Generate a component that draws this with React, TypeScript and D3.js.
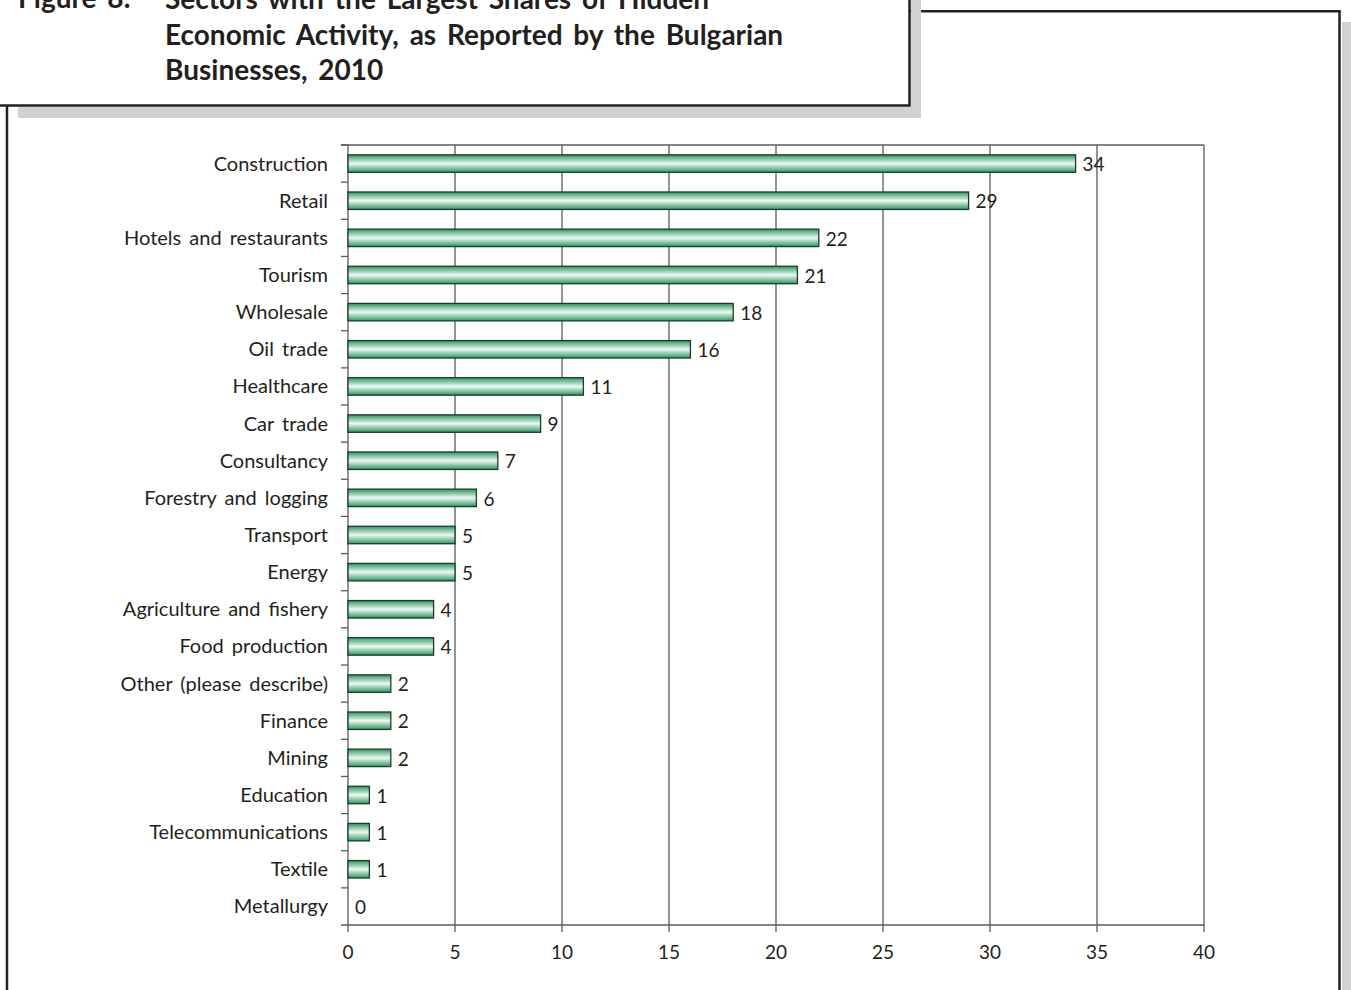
import React from "react";
import * as d3 from "d3";

const categories = [
  "Construction", "Retail", "Hotels and restaurants", "Tourism", "Wholesale",
  "Oil trade", "Healthcare", "Car trade", "Consultancy", "Forestry and logging",
  "Transport", "Energy", "Agriculture and fishery", "Food production",
  "Other (please describe)", "Finance", "Mining", "Education",
  "Telecommunications", "Textile", "Metallurgy",
];
const values = [34, 29, 22, 21, 18, 16, 11, 9, 7, 6, 5, 5, 4, 4, 2, 2, 2, 1, 1, 1, 0];
const xTicks = [0, 5, 10, 15, 20, 25, 30, 35, 40];
const titleLabel = "Figure 8:";
const titleLines = [
  "Sectors with the Largest Shares of Hidden",
  "Economic Activity, as Reported by the Bulgarian",
  "Businesses, 2010",
];

const W = 1351, H = 990;
const left = 348, right = 1204, top = 145, bottom = 925;
const font = "Lato, 'Open Sans', sans-serif";

export default function App() {
  const x = d3.scaleLinear().domain([0, 40]).range([left, right]);
  const y = d3.scaleBand<string>().domain(categories).range([top, bottom])
    .paddingInner(0.53).paddingOuter(0.265);
  const step = y.step();
  const grid = "#5a5a5a";
  const shadow = "#d1d2d4";
  return (
    <svg width={W} height={H} style={{ position: "absolute", left: 0, top: 0, background: "#fff" }}>
      <defs>
        <linearGradient id="barGrad" x1="0" y1="0" x2="0" y2="1">
          <stop offset="0" stopColor="#2a9860" />
          <stop offset="0.5" stopColor="#eef8f2" />
          <stop offset="1" stopColor="#2a9860" />
        </linearGradient>
      </defs>
      <rect x={0} y={0} width={W} height={H} fill="#fff" />
      {/* outer frame shadow */}
      <rect x={1342} y={22} width={9} height={H - 22} fill={shadow} />
      {/* outer frame */}
      <line x1={7} y1={105} x2={7} y2={H} stroke="#222" strokeWidth={2.5} />
      <line x1={910} y1={11.2} x2={1340.5} y2={11.2} stroke="#222" strokeWidth={2.5} />
      <line x1={1339.5} y1={10} x2={1339.5} y2={H} stroke="#222" strokeWidth={2.5} />
      {/* title box shadow */}
      <rect x={18} y={107} width={903} height={11} fill={shadow} />
      <rect x={911} y={0} width={10} height={118} fill={shadow} />
      {/* title box */}
      <rect x={-10} y={-10} width={919.5} height={115.5} fill="#fff" stroke="#222" strokeWidth={2.5} />
      <g fontFamily={font} fontWeight="bold" fontSize={28} fill="#231f20" wordSpacing={4}>
        <text x={18} y={8}>{titleLabel}</text>
        {titleLines.map((t, i) => (
          <text key={i} x={165} y={9 + i * 35.5}>{t}</text>
        ))}
      </g>
      {/* grid */}
      {xTicks.filter((t) => t > 0).map((t) => (
        <line key={t} x1={x(t)} x2={x(t)} y1={top} y2={bottom + 7} stroke={grid} strokeWidth={1.3} />
      ))}
      <line x1={left - 7} x2={right} y1={top} y2={top} stroke={grid} strokeWidth={1.3} />
      <line x1={left} x2={left} y1={top} y2={bottom + 7} stroke={grid} strokeWidth={1.3} />
      <line x1={left - 7} x2={right} y1={bottom} y2={bottom} stroke={grid} strokeWidth={1.3} />
      {categories.map((c, i) => (
        <line key={c} x1={left - 7} x2={left} y1={top + i * step} y2={top + i * step} stroke={grid} strokeWidth={1.3} />
      ))}
      {/* bars */}
      {categories.map((c, i) => values[i] > 0 ? (
        <rect key={c} x={x(0)} y={y(c)} width={x(values[i]) - x(0)} height={y.bandwidth()}
          fill="url(#barGrad)" stroke="#1d3b2b" strokeWidth={1.3} />
      ) : null)}
      {/* labels */}
      <g fontFamily={font} fill="#231f20">
        {categories.map((c, i) => (
          <text key={c} x={328} y={(y(c) as number) + y.bandwidth() / 2} dy="0.35em" textAnchor="end" wordSpacing={3} fontSize={20}>{c}</text>
        ))}
        {categories.map((c, i) => (
          <text key={c + "v"} x={x(values[i]) + 7} y={(y(c) as number) + y.bandwidth() / 2 + 1} dy="0.35em" fontSize={19}>{values[i]}</text>
        ))}
        {xTicks.map((t) => (
          <text key={t} x={x(t)} y={952} dy="0.35em" textAnchor="middle" fontSize={19}>{t}</text>
        ))}
      </g>
    </svg>
  );
}
